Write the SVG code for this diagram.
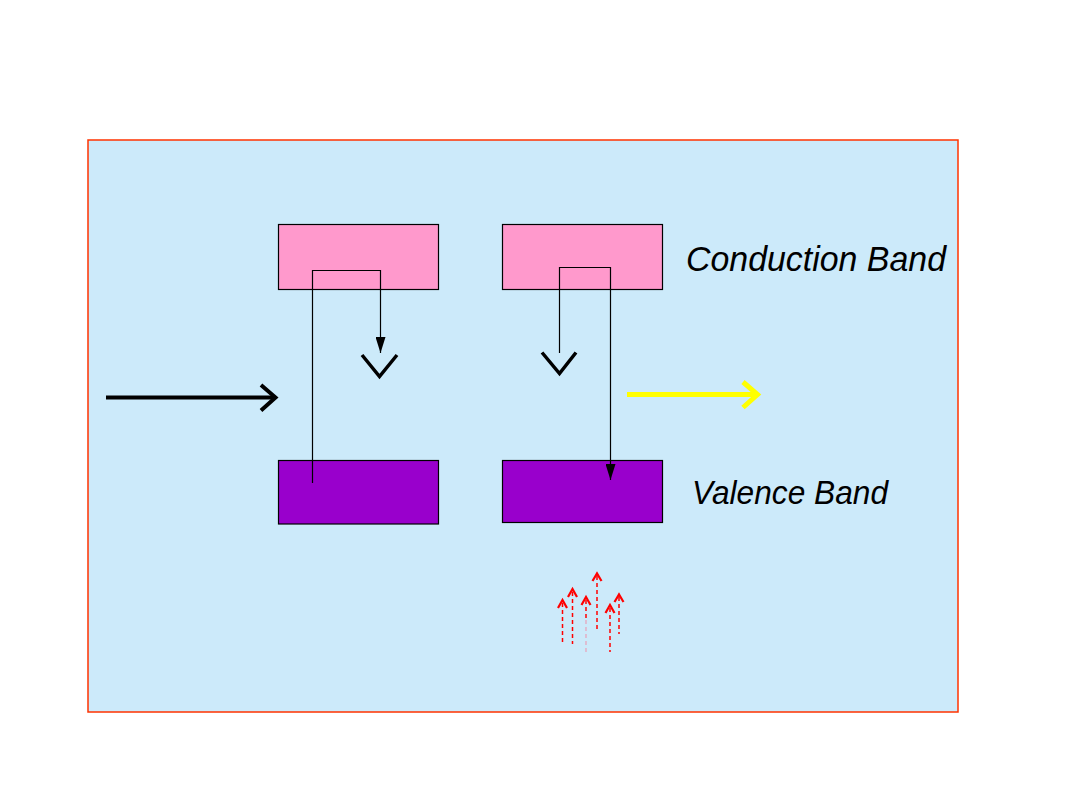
<svg xmlns="http://www.w3.org/2000/svg" width="1080" height="810" viewBox="0 0 1080 810">
<style>
.band-c{fill:#FF99CC;stroke:#000;stroke-width:1.2}
.band-v{fill:#9900CC;stroke:#000;stroke-width:1.2}
.wire{fill:none;stroke:#000;stroke-width:1.2}
.vee{fill:none;stroke:#000;stroke-width:3.5}
.ph{fill:none;stroke:#FF0000;stroke-width:1.5;stroke-dasharray:4 3}
.phh{fill:none;stroke:#FF0000;stroke-width:2.2}
.lbl{font-family:"Liberation Sans",Arial,sans-serif;font-style:italic;fill:#000}
</style>
<defs>
<marker id="tri" markerWidth="16" markerHeight="10" refX="16" refY="5" orient="auto" markerUnits="userSpaceOnUse" viewBox="0 0 16 10">
<path d="M0,0 L16,5 L0,10 Z" fill="#000"/>
</marker>
</defs>
<rect x="88" y="140" width="870" height="572" fill="#CCEAFA" stroke="#FF3300" stroke-width="1.5"/>
<g id="cb1"><rect class="band-c" x="278.5" y="224.5" width="160" height="65"/></g>
<g id="cb2"><rect class="band-c" x="502.5" y="224.5" width="160" height="65"/></g>
<g id="vb1"><rect class="band-v" x="278.5" y="460.5" width="160" height="63.5"/></g>
<g id="vb2"><rect class="band-v" x="502.5" y="460.5" width="160" height="62"/></g>
<g id="label-conduction"><text class="lbl" x="686" y="271" font-size="35" textLength="260" lengthAdjust="spacingAndGlyphs">Conduction Band</text></g>
<g id="label-valence"><text class="lbl" x="692" y="504" font-size="33" textLength="196" lengthAdjust="spacingAndGlyphs">Valence Band</text></g>
<g id="connectors">
<path class="wire" d="M312.5,483 V270.5 H380.5 V353" marker-end="url(#tri)"/>
<path class="wire" d="M559.5,353 V267.5 H610.5 V480" marker-end="url(#tri)"/>
<polyline class="vee" points="362,355 379.5,376.5 397,355"/>
<polyline class="vee" points="542,352.5 559.5,373.5 576,352.5"/>
<g id="incoming-light">
<line x1="106" y1="397.5" x2="275" y2="397.5" stroke="#000" stroke-width="4"/>
<polyline points="261,385 275.5,397.5 261,410.5" fill="none" stroke="#000" stroke-width="4"/>
</g>
<g id="emitted-light">
<line x1="627" y1="394.5" x2="757" y2="394.5" stroke="#FFFF00" stroke-width="5"/>
<polyline points="743,382 757.5,394.5 743,407.5" fill="none" stroke="#FFFF00" stroke-width="5"/>
</g>
<g id="phonons">
<line class="ph" x1="562.5" y1="603" x2="562.5" y2="642"/>
<polyline class="phh" points="558,608 562.5,600 567,608"/>
<line class="ph" x1="572.5" y1="592" x2="572.5" y2="644"/>
<polyline class="phh" points="568,597 572.5,589 577,597"/>
<line class="ph" x1="586" y1="600" x2="586" y2="620"/>
<line x1="586" y1="620" x2="586" y2="653" stroke="#E8A0B8" stroke-width="1.2" stroke-dasharray="4 3"/>
<polyline class="phh" points="581.5,605 586,597 590.5,605"/>
<line class="ph" x1="597" y1="576" x2="597" y2="632"/>
<polyline class="phh" points="592.5,581 597,573.5 601.5,581"/>
<line class="ph" x1="610" y1="608" x2="610" y2="652"/>
<polyline class="phh" points="605.5,613 610,605 614.5,613"/>
<line class="ph" x1="619" y1="597" x2="619" y2="634"/>
<polyline class="phh" points="614.5,602 619,594.5 623.5,602"/>
</g>
</g>
</svg>
